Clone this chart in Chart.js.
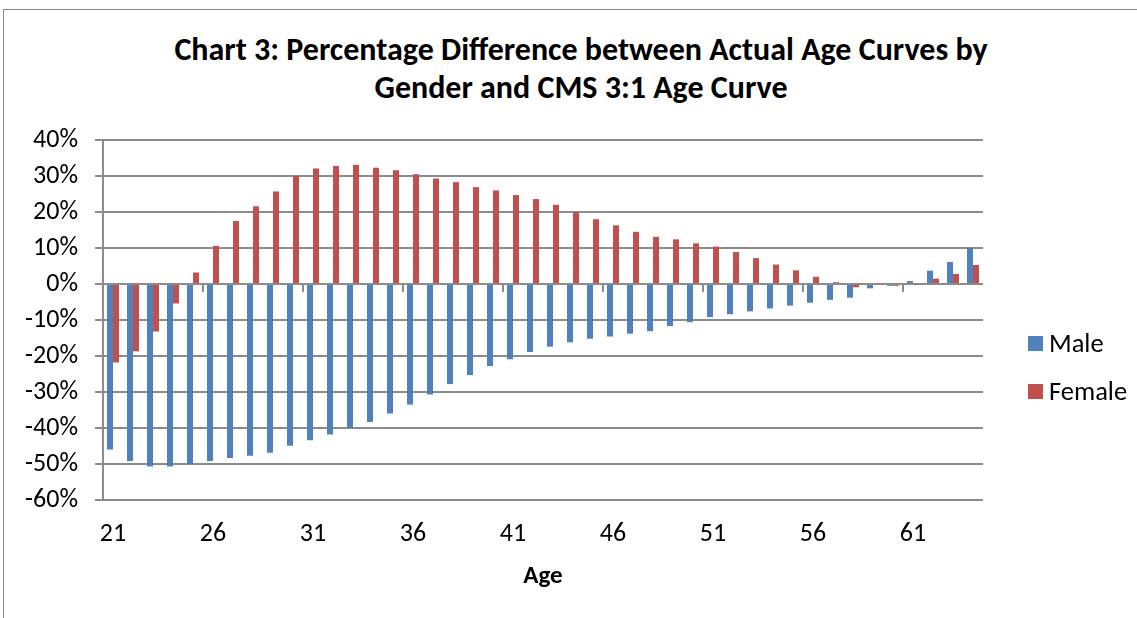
<!DOCTYPE html>
<html>
<head>
<meta charset="utf-8">
<script src="https://cdn.jsdelivr.net/npm/chart.js@4/dist/chart.umd.min.js"></script>
<style>
  html, body { margin: 0; padding: 0; background: #fff; }
  body { width: 1137px; height: 618px; position: relative; overflow: hidden; font-family: Carlito, Lato, sans-serif; }
  #frame { position: absolute; left: 3px; top: 9px; width: 1200px; height: 700px; border: 1.5px solid #8a8a8a; box-sizing: border-box; }
  #title { position: absolute; left: 0; top: 31px; width: 1162px; text-align: center; font-weight: bold; font-size: 32px; line-height: 38px; color: #000; }
  #wrap { position: absolute; left: 0; top: 0; width: 1137px; height: 618px; }
  .sw { position: absolute; left: 1028px; width: 15px; height: 15px; }
  .lt { position: absolute; left: 1049px; font-size: 26.5px; line-height: 28px; color: #000; }
</style>
</head>
<body>
<div id="frame"></div>
<div id="title">Chart 3: Percentage Difference between Actual Age Curves by<br>Gender and CMS 3:1 Age Curve</div>
<div id="wrap"><canvas id="c" width="1137" height="618"></canvas></div>
<div class="sw" style="top:336px;background:#4F81BD"></div><div class="lt" style="top:329px">Male</div>
<div class="sw" style="top:384px;background:#C0504D"></div><div class="lt" style="top:377px">Female</div>
<script>
const ages = ['21','22','23','24','25','26','27','28','29','30','31','32','33','34','35','36','37','38','39','40','41','42','43','44','45','46','47','48','49','50','51','52','53','54','55','56','57','58','59','60','61','62','63','64'];
const male = [-46.0,-49.2,-50.7,-50.7,-50.0,-49.2,-48.3,-47.7,-46.9,-44.9,-43.4,-41.8,-40.0,-38.3,-36.0,-33.5,-30.7,-27.8,-25.3,-22.8,-20.9,-18.9,-17.4,-16.2,-15.2,-14.6,-13.8,-13.1,-11.7,-10.6,-9.2,-8.4,-7.6,-6.8,-6.0,-5.2,-4.4,-3.8,-1.2,-0.5,0.8,3.7,6.1,10.0];
const female = [-21.8,-18.7,-13.2,-5.4,3.2,10.6,17.5,21.6,25.7,30.0,32.1,32.8,33.1,32.3,31.6,30.5,29.3,28.3,26.9,26.0,24.7,23.6,22.0,20.0,18.0,16.3,14.5,13.1,12.4,11.3,10.4,8.9,7.2,5.4,3.8,2.0,0.5,-0.9,0.2,-0.5,-0.1,1.5,2.8,5.3];
const yMin = -60, yMax = 40, yStep = 10;
const labelEvery = 5;

const gridColor = '#8c8c8c';
const fontFam = 'Carlito, Lato, sans-serif';

const zeroTicks = {
  id: 'zeroTicks',
  afterDatasetsDraw(chart) {
    const xs = chart.scales.x, ys = chart.scales.y;
    const ctx = chart.ctx;
    const half = (xs.getPixelForValue(1) - xs.getPixelForValue(0)) / 2;
    const y0 = ys.getPixelForValue(0);
    ctx.save();
    ctx.strokeStyle = gridColor;
    ctx.lineWidth = 2;
    for (let i = 0; i < ages.length; i += labelEvery) {
      const x = Math.round(xs.getPixelForValue(i) - half);
      ctx.beginPath();
      ctx.moveTo(x, y0);
      ctx.lineTo(x, y0 + 8);
      ctx.stroke();
    }
    ctx.restore();
  }
};

new Chart(document.getElementById('c'), {
  type: 'bar',
  data: {
    labels: ages,
    datasets: [
      { label: 'Male', data: male, backgroundColor: '#4F81BD', categoryPercentage: 0.6, barPercentage: 1.0 },
      { label: 'Female', data: female, backgroundColor: '#C0504D', categoryPercentage: 0.6, barPercentage: 1.0 }
    ]
  },
  options: {
    responsive: false,
    animation: false,
    layout: { padding: { left: 0, top: 140, right: 154, bottom: 25 } },
    plugins: { legend: { display: false }, tooltip: { enabled: false } },
    scales: {
      x: {
        grid: { display: false, drawTicks: false },
        border: { display: false },
        ticks: {
          autoSkip: false, maxRotation: 0, padding: 19, color: '#000',
          font: { family: fontFam, size: 26 },
          callback: function(v, i) { return i % labelEvery === 0 ? ages[i] : ''; }
        },
        title: { display: true, text: 'Age', color: '#000', font: { family: fontFam, size: 25, weight: 'bold' }, padding: { top: 0, bottom: 1 } },
        afterFit: function(s) { s.height = 93; }
      },
      y: {
        min: yMin, max: yMax,
        grid: { color: gridColor, lineWidth: 2, drawTicks: true, tickLength: 8 },
        border: { display: true, color: gridColor, width: 2 },
        ticks: {
          stepSize: yStep, padding: 17, color: '#000',
          font: { family: fontFam, size: 26 },
          callback: function(v) { return v + '%'; }
        },
        afterFit: function(s) { s.width = 103; }
      }
    }
  },
  plugins: [zeroTicks]
});
</script>
</body>
</html>
